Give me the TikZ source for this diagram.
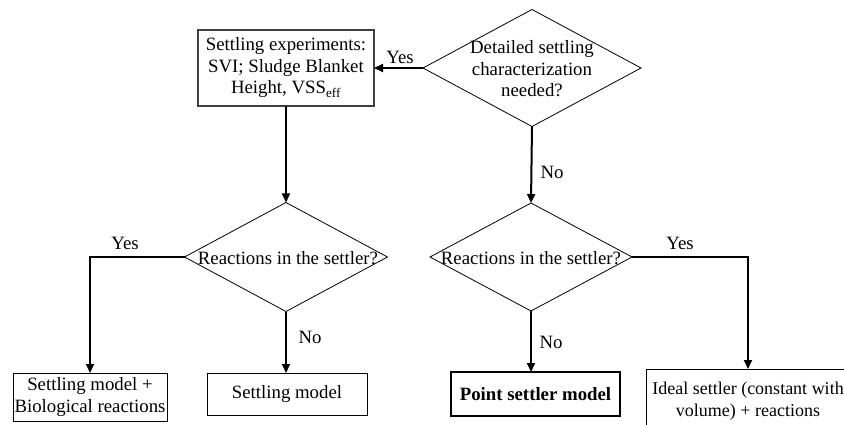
\documentclass[tikz,border=0pt]{standalone}
\usepackage{fontspec}
\setmainfont{Liberation Serif}
\usetikzlibrary{arrows.meta,shapes.geometric}

\begin{document}
\begin{tikzpicture}[x=1pt,y=-1pt,
  every node/.style={font=\fontsize{18.8}{21.5}\selectfont, inner sep=0pt, outer sep=0pt},
  procbox/.style={draw, line width=0.9pt, rectangle, align=center},
  decision/.style={draw, line width=0.8pt, diamond},
  conn/.style={line width=2pt, -{Triangle[length=9pt,width=8pt]}},
  lbl/.style={anchor=center}]
\useasboundingbox (0,0) rectangle (844,425);
\clip (0,0) rectangle (844,425);

% decisions
\node[decision, minimum width=218pt, minimum height=117pt] (dtop) at (532,68) {};
\node[align=center] (dtoptxt) at (532,69) {Detailed settling\\characterization\\needed?};
\node[decision, minimum width=203pt, minimum height=109pt] (dleft) at (286,257) {};
\node (dlefttxt) at (288,258) {Reactions in the settler?};
\node[decision, minimum width=202pt, minimum height=108pt] (dright) at (531,257) {};
\node (drighttxt) at (531,258) {Reactions in the settler?};

% process boxes
\node[procbox, draw=black!75, line width=1.2pt, minimum width=176pt, minimum height=76pt] (exp) at (286,68)
  {Settling experiments:\\SVI; Sludge Blanket\\Height, VSS\textsubscript{eff}};
\node[procbox, minimum width=154pt, minimum height=48pt] (settbio) at (90,397)
  {Settling model +\\Biological reactions};
\node[procbox, minimum width=160pt, minimum height=42pt] (sett) at (287,394) {Settling model};
\node[procbox, line width=2.4pt, minimum width=169pt, minimum height=44pt] (point) at (535.5,394)
  {\bfseries Point settler model};
\node[procbox, minimum width=204pt, minimum height=64pt, font=\fontsize{18}{21.5}\selectfont] (ideal) at (748,401)
  {Ideal settler (constant with\\volume) + reactions};

% connectors
\draw[conn] (dtop.west) -- (exp.east);
\node[lbl] (ytop) at (400,57) {Yes};
\draw[conn] (dtop.south) -- (dright.north);
\node[lbl] (ntop) at (552,172) {No};
\draw[conn] (exp.south) -- (dleft.north);
\draw[conn] (dleft.west) -| (settbio.north);
\node[lbl] (yleft) at (125,243) {Yes};
\draw[conn] (dleft.south) -- (dleft.south |- sett.north);
\node[lbl] (nleft) at (310,337) {No};
\draw[conn] (dright.south) -- (dright.south |- point.north);
\node[lbl] (nright) at (551,342) {No};
\draw[conn] (dright.east) -| (ideal.north);
\node[lbl] (yright) at (680,243) {Yes};
\end{tikzpicture}
\end{document}
